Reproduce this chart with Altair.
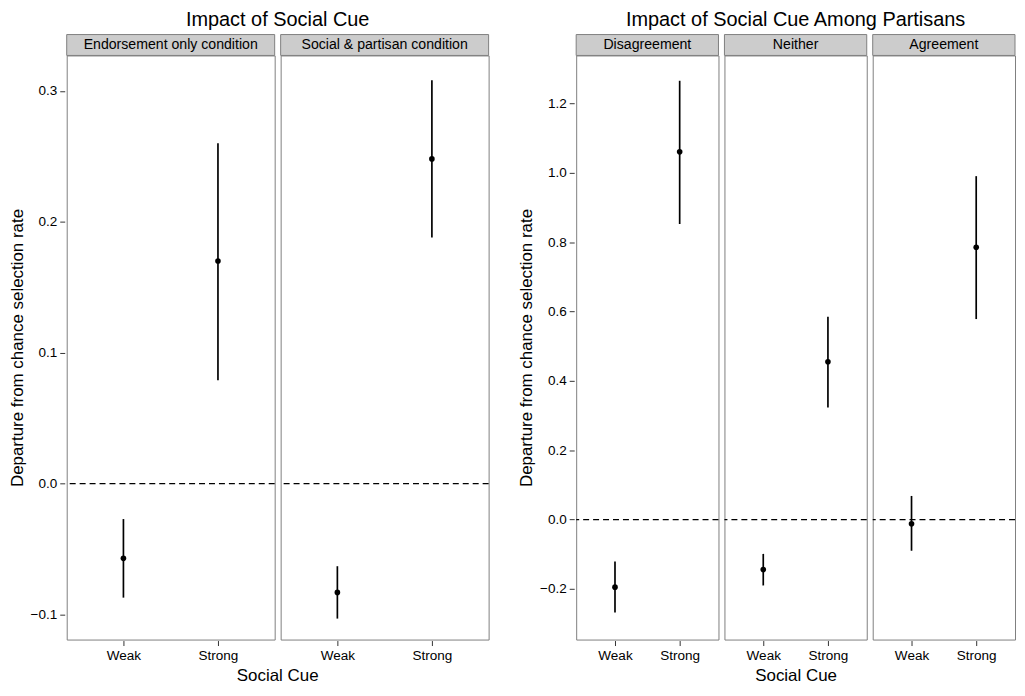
import altair as alt
import pandas as pd

FONT = "Liberation Sans"
GRAY = "#7f7f7f"

cues = ["Weak", "Strong"]

left_title = "Impact of Social Cue"
left_panels = ["Endorsement only condition", "Social & partisan condition"]
left_est = [-0.057, 0.170, -0.083, 0.248]
left_lo = [-0.087, 0.079, -0.103, 0.188]
left_hi = [-0.027, 0.260, -0.063, 0.308]
left_ticks = [-0.1, 0.0, 0.1, 0.2, 0.3]
left_domain = [-0.119, 0.327]

right_title = "Impact of Social Cue Among Partisans"
right_panels = ["Disagreement", "Neither", "Agreement"]
right_est = [-0.195, 1.060, -0.144, 0.455, -0.012, 0.785]
right_lo = [-0.268, 0.852, -0.190, 0.323, -0.090, 0.578]
right_hi = [-0.121, 1.265, -0.099, 0.585, 0.068, 0.990]
right_ticks = [-0.2, 0.0, 0.2, 0.4, 0.6, 0.8, 1.0, 1.2]
right_domain = [-0.346, 1.338]

y_title = "Departure from chance selection rate"
x_title = "Social Cue"

FACET_SPACING = 2
GAP = 6
H = 587


def make_df(panels, est, lo, hi):
    rows = []
    i = 0
    for p in panels:
        for c in cues:
            rows.append(dict(panel=p, cue=c, est=est[i], lo=lo[i], hi=hi[i]))
            i += 1
    return pd.DataFrame(rows)


def group(df, panels, title, domain, ticks, w, h):
    x = alt.X(
        "cue:N",
        sort=cues,
        scale=alt.Scale(type="point", padding=0.6),
        axis=alt.Axis(title=None, labelAngle=0),
    )
    yscale = alt.Scale(domain=domain, nice=False, zero=False)
    yaxis = alt.Axis(title=y_title, values=ticks, format=".1f")
    base = alt.Chart().encode(x=x)
    bars = base.mark_rule(strokeWidth=1.7, color="black").encode(
        y=alt.Y("lo:Q", scale=yscale, axis=yaxis), y2="hi:Q"
    )
    pts = base.mark_circle(size=32, color="black", opacity=1).encode(
        y=alt.Y("est:Q", scale=yscale, axis=yaxis)
    )
    one = alt.Chart().transform_filter("datum.cue == 'Weak'")
    zero = one.mark_rule(strokeDash=[6, 4], color="black", strokeWidth=1.2).encode(
        y=alt.datum(0)
    )
    strip_rect = one.mark_rect(
        fill="#cccccc", stroke=GRAY, strokeWidth=1, clip=False
    ).encode(
        x=alt.value(0), x2=alt.value(w), y=alt.value(-21), y2=alt.value(0)
    )
    strip_text = one.mark_text(
        font=FONT, fontSize=14.2, color="black", clip=False, baseline="middle"
    ).encode(x=alt.value(w / 2), y=alt.value(-10), text="panel:N")
    layer = alt.layer(bars, pts, zero, strip_rect, strip_text, data=df).properties(
        width=w, height=h
    )
    n = len(panels)
    total_w = n * w + (n - 1) * GAP
    return layer.facet(
        column=alt.Column(
            "panel:N",
            sort=panels,
            header=alt.Header(
                title=x_title,
                titleOrient="bottom",
                labels=False,
                labelPadding=0,
                titleFont=FONT,
                titleFontSize=17,
                titleFontWeight="normal",
                titleColor="black",
                titlePadding=-4,
            ),
        ),
        spacing=FACET_SPACING,
    ).properties(
        title=alt.TitleParams(
            title, font=FONT, fontSize=20, fontWeight="normal", color="black",
            anchor="middle", frame="group", offset=4, dx=total_w / 2,
        )
    )


left = group(
    make_df(left_panels, left_est, left_lo, left_hi),
    left_panels, left_title, left_domain, left_ticks, 209, H,
)
right = group(
    make_df(right_panels, right_est, right_lo, right_hi),
    right_panels, right_title, right_domain, right_ticks, 143, H,
)

chart = (
    alt.hconcat(left, right, spacing=27)
    .resolve_scale(y="independent")
    .properties(padding={"left": 0, "top": 0, "right": 0, "bottom": 0})
    .configure_view(stroke=GRAY, strokeWidth=1)
    .configure_axis(
        grid=False,
        domain=False,
        tickColor="#333333",
        tickSize=5,
        labelFont=FONT,
        labelFontSize=13.6,
        labelColor="black",
        labelPadding=3,
        titleFont=FONT,
        titleFontSize=17,
        titleFontWeight="normal",
        titleColor="black",
        titlePadding=4,
    )
)

chart.save("out.html", embed_options={"renderer": "svg", "actions": False})
